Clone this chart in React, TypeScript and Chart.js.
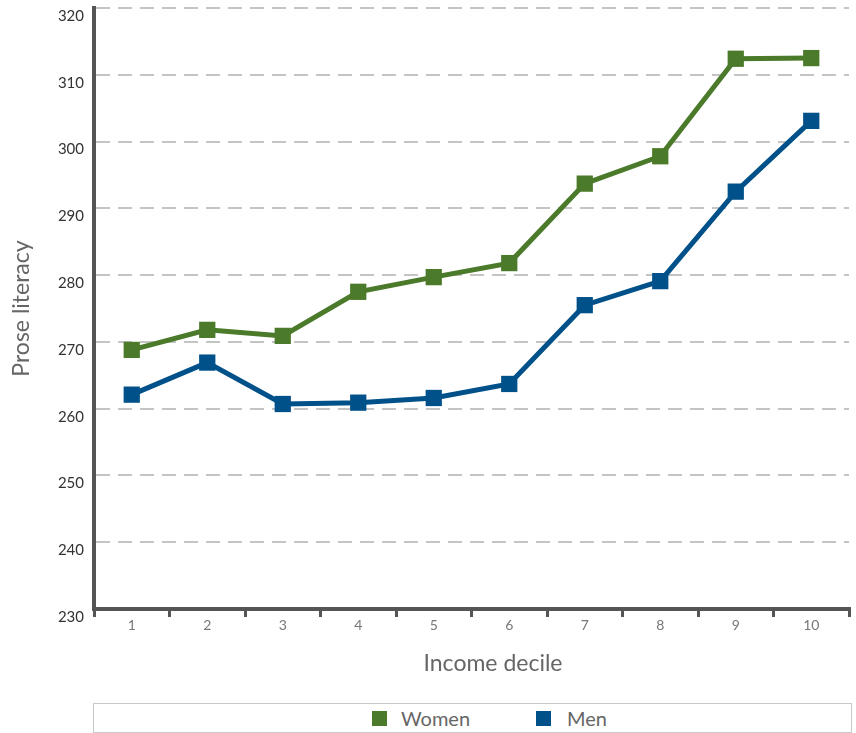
import React, { useEffect, useRef } from "react";
import { Chart, registerables } from "chart.js";

Chart.register(...registerables);

const deciles = ["1", "2", "3", "4", "5", "6", "7", "8", "9", "10"];
const women = [268.8, 271.8, 270.9, 277.5, 279.7, 281.8, 293.7, 297.8, 312.4, 312.5];
const men = [262.1, 266.9, 260.7, 260.9, 261.6, 263.7, 275.5, 279.1, 292.5, 303.1];
const yMin = 230;
const yMax = 320;
const yStep = 10;

const GREEN = "#4a7a2a";
const BLUE = "#005189";
const FONT = "Lato, 'Open Sans', sans-serif";

const xTitlePlugin = {
  id: "xTitle",
  afterDraw(chart: any) {
    const ctx = chart.ctx;
    ctx.save();
    ctx.font = `23px ${FONT}`;
    ctx.fillStyle = "#666";
    ctx.textAlign = "center";
    ctx.textBaseline = "middle";
    ctx.fillText("Income decile", 493, 664);
    ctx.restore();
  },
};

export default function App() {
  const ref = useRef<HTMLCanvasElement>(null);
  useEffect(() => {
    if (!ref.current) return;
    const chart = new Chart(ref.current, {
      type: "line",
      data: {
        labels: deciles,
        datasets: [
          {
            label: "Women",
            data: women,
            borderColor: GREEN,
            backgroundColor: GREEN,
            pointBackgroundColor: GREEN,
            pointBorderWidth: 0,
            borderWidth: 5,
            pointStyle: "rect",
            pointRadius: 11.5,
            tension: 0,
            clip: false,
          },
          {
            label: "Men",
            data: men,
            borderColor: BLUE,
            backgroundColor: BLUE,
            pointBackgroundColor: BLUE,
            pointBorderWidth: 0,
            borderWidth: 5,
            pointStyle: "rect",
            pointRadius: 11.5,
            tension: 0,
            clip: false,
          },
        ],
      },
      options: {
        responsive: false,
        animation: false,
        layout: { autoPadding: false, padding: { top: 8, right: 7, left: 0, bottom: 0 } },
        plugins: { legend: { display: false }, tooltip: { enabled: false } },
        scales: {
          x: {
            offset: true,
            grid: {
              offset: true,
              drawOnChartArea: false,
              drawTicks: true,
              tickLength: 8,
              tickColor: "#555",
              lineWidth: 3,
              color: "#555",
            },
            border: { display: true, color: "#555", width: 4 },
            ticks: { color: "#777", font: { family: FONT, size: 14 }, padding: 0 },
            afterFit: (s: any) => {
              s.height = 91;
              s.paddingLeft = 0;
              s.paddingRight = 0;
            },
          },
          y: {
            min: yMin,
            max: yMax,
            ticks: {
              stepSize: yStep,
              color: "#333",
              font: { family: FONT, size: 15 },
              padding: 10,
              labelOffset: 8,
            },
            grid: {
              color: "#c4c4c4",
              lineWidth: 2,
              drawTicks: false,
            },
            border: { display: true, color: "#555", width: 4, dash: [14, 8] },
            title: {
              display: true,
              text: "Prose literacy",
              color: "#666",
              font: { family: FONT, size: 23 },
              padding: { top: 8, bottom: 0 },
            },
            afterFit: (s: any) => {
              s.width = 94;
              s.paddingTop = 0;
              s.paddingBottom = 0;
            },
          },
        },
      },
      plugins: [xTitlePlugin],
    });
    return () => chart.destroy();
  }, []);

  const legendText: React.CSSProperties = {
    position: "absolute",
    top: 706,
    fontFamily: FONT,
    fontSize: 20,
    color: "#666",
    lineHeight: "24px",
  };

  return (
    <div style={{ position: "fixed", left: 0, top: 0, width: 856, height: 733, background: "#fff" }}>
      <canvas ref={ref} width={856} height={700} style={{ position: "absolute", left: 0, top: 0 }} />
      <div
        style={{
          position: "absolute",
          left: 93,
          top: 703,
          width: 759,
          height: 30,
          border: "1px solid #c8c8c8",
          boxSizing: "border-box",
        }}
      />
      <div style={{ position: "absolute", left: 372, top: 711, width: 15, height: 15, background: GREEN }} />
      <div style={{ ...legendText, left: 401 }}>Women</div>
      <div style={{ position: "absolute", left: 536, top: 711, width: 15, height: 15, background: BLUE }} />
      <div style={{ ...legendText, left: 567 }}>Men</div>
    </div>
  );
}
